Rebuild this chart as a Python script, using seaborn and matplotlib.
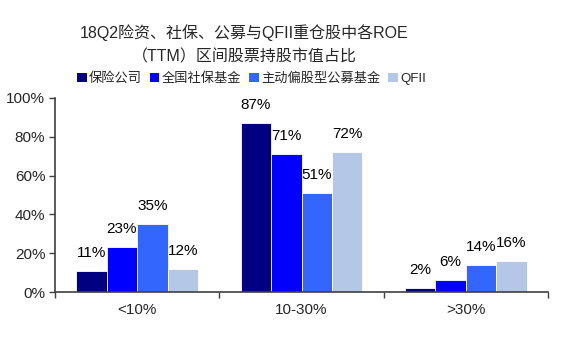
import matplotlib
matplotlib.use("Agg")
import matplotlib.pyplot as plt
import seaborn as sns
import pandas as pd
from matplotlib.ticker import FuncFormatter, FixedLocator
from matplotlib.patches import Patch

categories = ["<10%", "10-30%", ">30%"]
series = ["保险公司", "全国社保基金", "主动偏股型公募基金", "QFII"]
vals_insurance = [11, 87, 2]
vals_ssf = [23, 71, 6]
vals_fund = [35, 51, 14]
vals_qfii = [12, 72, 16]
colors = ["#000080", "#0000FF", "#3366FF", "#B4C7E7"]

rows = []
for s, vals in zip(series, [vals_insurance, vals_ssf, vals_fund, vals_qfii]):
    for c, v in zip(categories, vals):
        rows.append({"cat": c, "series": s, "value": v / 100})
df = pd.DataFrame(rows)

sns.set_theme(style="white")
fam = ["Liberation Sans", "Noto Sans CJK SC", "DejaVu Sans"]
plt.rcParams["font.family"] = fam

fig = plt.figure(figsize=(5.76, 3.45), dpi=100)
ax = fig.add_axes([0.0955, 0.1536, 0.856, 0.5624])

sns.barplot(data=df, x="cat", y="value", hue="series", order=categories,
            hue_order=series, palette=colors, width=0.74, gap=0,
            saturation=1, ax=ax, legend=False, edgecolor="white", linewidth=0.6)

for cont in ax.containers:
    ax.bar_label(cont, labels=[f"{int(round(b.get_height()*100))}%" for b in cont],
                 padding=8, fontsize=11, color="black")

ax.set_ylim(0, 1.0)
ax.set_xlim(-0.5, 2.5)
ax.set_yticks([0, 0.2, 0.4, 0.6, 0.8, 1.0])
ax.yaxis.set_major_formatter(FuncFormatter(lambda v, p: f"{int(round(v*100))}%"))
ax.tick_params(axis="y", left=True, length=4, width=1, color="#404040", labelsize=11, pad=3)
ax.tick_params(axis="x", bottom=False, length=0, labelsize=11, pad=8)
ax.xaxis.set_minor_locator(FixedLocator([-0.5, 0.5, 1.5, 2.5]))
ax.tick_params(axis="x", which="minor", bottom=True, length=4, width=1, color="#404040")
ax.set_xlabel("")
ax.set_ylabel("")
for sp in ["top", "right"]:
    ax.spines[sp].set_visible(False)
for sp in ["left", "bottom"]:
    ax.spines[sp].set_color("#404040")
    ax.spines[sp].set_linewidth(1.2)

fig.text(0.424, 0.905, "18Q2险资、社保、公募与QFII重仓股中各ROE", ha="center", va="center",
         fontsize=11.5, family=fam)
fig.text(0.424, 0.835, "（TTM）区间股票持股市值占比", ha="center", va="center",
         fontsize=11.5, family=fam)

handles = [Patch(facecolor=c, edgecolor="none") for c in colors]
fig.legend(handles, series, loc="center", bbox_to_anchor=(0.437, 0.773), ncol=4,
           frameon=False, fontsize=9.5, handlelength=0.7, handleheight=0.7,
           handletextpad=0.2, columnspacing=0.6, borderaxespad=0)

fig.savefig("out.png", dpi=100)
